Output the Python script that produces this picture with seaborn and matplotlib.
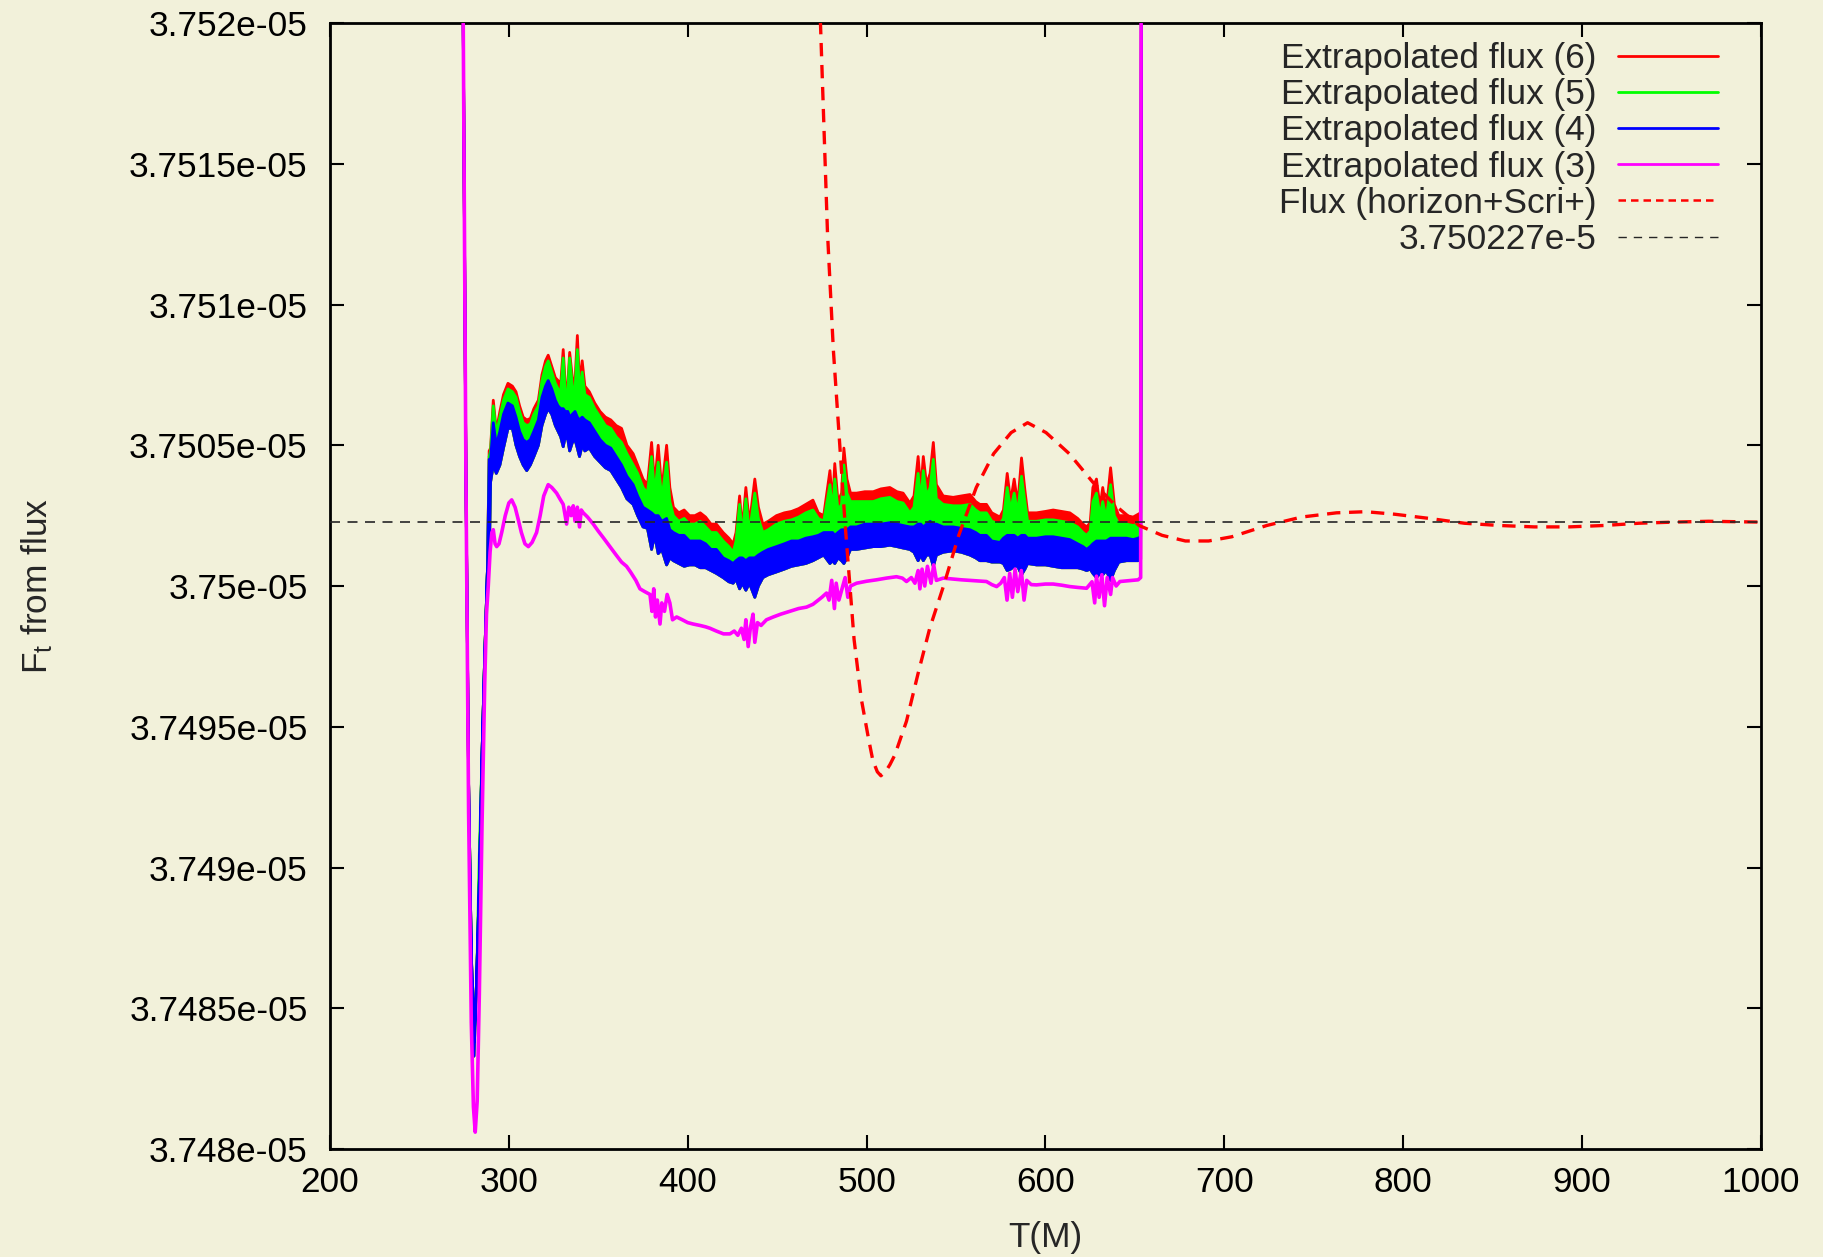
import numpy as np
import pandas as pd
import matplotlib
matplotlib.use("Agg")
import matplotlib.pyplot as plt
from matplotlib.lines import Line2D
from matplotlib.ticker import FormatStrFormatter
import seaborn as sns

# ---------------- data (values in units of 1e-9, offset from BASE) ----------------
BASE = 3.75e-05
UNIT = 1e-09

# shared time grid for the three extrapolated-flux bands (6), (5), (4)
t_band = [272, 274.5, 276, 277.5, 279, 280.5, 282, 283.5, 285, 286.5, 288, 289, 289.8,
          291.3, 293, 295, 297, 299.5, 302, 304, 306, 308, 310, 312, 314, 316.5, 318.5,
          320.5, 322, 324, 326, 327.5, 329, 330.4, 331.5, 333, 334, 335.5, 337, 338.3,
          339.5, 341, 342.5, 345, 348, 351, 354, 357, 360, 363, 366, 369.5, 372, 375,
          377.5, 379.8, 381.5, 383.5, 385.5, 388.2, 390, 392, 395, 398, 401, 404, 407,
          410, 413, 416, 419.8, 423, 425.4, 427, 429, 430.5, 432.5, 434.5, 437.5, 439.5,
          442, 445, 449.6, 454, 458, 462, 466, 470, 473, 476, 479.5, 481, 482.2, 484,
          486, 487.3, 489, 491, 494.4, 499, 503.7, 508, 513, 517, 520.4, 524.2, 526.5,
          528.8, 530.3, 531.7, 533.5, 535.5, 537.3, 539, 542.8, 548.4, 553, 557.8, 561,
          563.3, 567, 570, 574.5, 576.5, 578.6, 580.5, 582.5, 584.5, 586.6, 588.5, 590,
          595, 600, 604.3, 609, 613.6, 618, 621, 623, 625, 626.5, 628.5, 630.5, 632, 634,
          636.4, 638.5, 641, 645.3, 649, 651.8, 653.2, 654]

ext6_hi = [40, 20, 4, -7, -13, -16.2, -14, -10.5, -6, -2.5, 0.5, 4.8, 4.9,
           6.6, 5.5, 6.2, 6.8, 7.2, 7.1, 6.9, 6.4, 6.0, 5.9, 5.95, 6.3, 6.6, 7.5,
           8.0, 8.2, 7.8, 7.4, 7.3, 7.2, 8.4, 7.2, 7.2, 8.3, 7.4, 7.3, 8.9,
           7.2, 8.0, 7.1, 6.9, 6.5, 6.2, 6.0, 5.9, 5.7, 5.6, 5.0, 4.7, 4.3, 3.8,
           3.6, 5.1, 3.6, 5.0, 3.4, 5.0, 3.5, 2.8, 2.6, 2.7, 2.5, 2.5, 2.6,
           2.45, 2.2, 2.2, 1.9, 1.7, 1.5, 1.9, 3.2, 2.0, 3.5, 2.2, 3.8, 2.8,
           2.2, 2.3, 2.5, 2.6, 2.65, 2.75, 2.9, 3.05, 2.6, 2.5, 4.1, 2.9, 4.35, 3.0,
           3.3, 4.9, 3.8, 3.3, 3.3, 3.35, 3.35, 3.45, 3.5, 3.35, 3.3, 2.95, 3.2,
           4.6, 3.4, 4.6, 3.6, 4.0, 5.1, 3.6, 3.2, 3.15, 3.2, 3.25, 3.0,
           2.9, 2.9, 2.6, 2.45, 2.7, 4.0, 3.0, 3.8, 2.9, 4.55, 3.4, 2.6,
           2.6, 2.65, 2.7, 2.65, 2.6, 2.4, 2.2, 2.1, 2.25, 3.5, 3.8, 2.8, 3.5, 2.7,
           4.2, 2.9, 2.5, 2.5, 2.45, 2.55, 2.6, 40]

ext5_hi = [40, 20, 4, -7, -13, -16.2, -14, -9.5, -6, -2.5, 0.5, 4.6, 4.8,
           6.4, 5.4, 6.0, 6.6, 7.0, 6.9, 6.7, 6.2, 5.8, 5.7, 5.75, 6.1, 6.4, 7.3,
           7.8, 8.0, 7.6, 7.2, 7.0, 6.9, 8.1, 6.9, 7.0, 8.1, 7.1, 7.0, 8.4,
           6.9, 7.6, 6.8, 6.7, 6.3, 6.0, 5.7, 5.6, 5.3, 5.1, 4.7, 4.3, 4.0, 3.5,
           3.3, 4.6, 3.3, 4.4, 3.1, 4.4, 3.0, 2.5, 2.3, 2.4, 2.2, 2.2, 2.3,
           2.1, 1.9, 1.9, 1.6, 1.4, 1.2, 1.6, 2.9, 1.8, 3.1, 1.9, 3.3, 2.4,
           1.9, 2.0, 2.2, 2.3, 2.35, 2.45, 2.6, 2.7, 2.4, 2.3, 3.6, 2.6, 3.8, 2.7,
           2.9, 4.3, 3.3, 3.0, 3.0, 3.0, 3.0, 3.1, 3.15, 3.0, 2.95, 2.6, 2.8,
           4.0, 3.0, 4.1, 3.2, 3.5, 4.5, 3.1, 2.9, 2.85, 2.85, 2.9, 2.7,
           2.6, 2.6, 2.3, 2.2, 2.4, 3.5, 2.7, 3.3, 2.6, 3.9, 3.0, 2.3,
           2.3, 2.35, 2.35, 2.3, 2.25, 2.1, 1.9, 1.8, 1.95, 3.0, 3.3, 2.5, 3.0, 2.4,
           3.6, 2.5, 2.2, 2.2, 2.15, 2.2, 2.3, 40]

ext4_hi = [40, 20, 4, -7, -13, -16.2, -14, -10.5, -6, -2.5, 0.5, 4.5, 4.5,
           5.8, 5.0, 5.5, 6.1, 6.5, 6.4, 6.0, 5.5, 5.2, 5.1, 5.2, 5.5, 5.9, 6.7,
           7.1, 7.3, 7.0, 6.6, 6.4, 6.3, 6.3, 6.2, 6.2, 6.0, 6.1, 6.2, 6.0,
           5.9, 6.0, 5.9, 5.8, 5.5, 5.2, 5.0, 4.9, 4.6, 4.3, 3.9, 3.6, 3.2, 2.8,
           2.7, 2.6, 2.5, 2.5, 2.3, 2.4, 2.0, 1.9, 1.8, 1.8, 1.6, 1.6, 1.6,
           1.5, 1.3, 1.3, 1.0, 0.9, 0.8, 0.9, 1.0, 1.0, 0.9, 1.0, 1.0, 1.1,
           1.2, 1.3, 1.4, 1.5, 1.6, 1.6, 1.7, 1.75, 1.8, 1.9, 1.9, 1.9, 1.8, 1.9,
           2.0, 2.0, 2.0, 2.1, 2.1, 2.2, 2.2, 2.2, 2.25, 2.2, 2.15, 2.1, 2.1,
           2.2, 2.2, 2.1, 2.2, 2.3, 2.2, 2.2, 2.1, 2.1, 2.05, 2.0, 1.9,
           1.8, 1.8, 1.6, 1.55, 1.7, 1.8, 1.8, 1.8, 1.7, 1.8, 1.8, 1.7,
           1.7, 1.75, 1.75, 1.7, 1.65, 1.5, 1.4, 1.3, 1.4, 1.5, 1.6, 1.6, 1.6, 1.6,
           1.7, 1.7, 1.7, 1.7, 1.65, 1.7, 1.75, 40]

ext4_lo = [40, 20, 4, -7, -13, -16.7, -14, -10.5, -6, -2.5, 0.5, 0.8, 3.7,
           4.3, 4.0, 4.3, 4.9, 5.6, 5.6, 5.0, 4.6, 4.3, 4.1, 4.3, 4.6, 5.0, 5.7,
           6.1, 6.3, 6.1, 5.7, 5.5, 5.3, 4.95, 5.3, 5.2, 4.8, 5.1, 5.2, 4.9,
           4.6, 5.0, 4.8, 4.9, 4.6, 4.4, 4.2, 4.1, 3.8, 3.5, 3.1, 2.9, 2.5, 2.1,
           2.05, 1.3, 1.8, 1.15, 1.3, 0.75, 1.0, 0.9, 0.8, 0.7, 0.75, 0.75, 0.65,
           0.65, 0.55, 0.45, 0.3, 0.15, 0.1, 0.25, -0.1, 0.1, -0.15, 0.1, -0.4, 0.0,
           0.3, 0.4, 0.5, 0.6, 0.7, 0.75, 0.8, 0.9, 1.0, 1.1, 0.8, 0.9, 0.8, 1.0,
           0.9, 0.8, 1.0, 1.3, 1.3, 1.35, 1.4, 1.4, 1.45, 1.4, 1.35, 1.3, 1.2,
           0.9, 1.1, 0.9, 1.1, 1.1, 0.7, 1.1, 1.2, 1.25, 1.2, 1.1, 1.0,
           0.9, 0.9, 0.85, 0.85, 0.8, 0.55, 0.6, 0.7, 0.7, 0.4, 0.6, 0.8,
           0.75, 0.75, 0.7, 0.65, 0.65, 0.65, 0.6, 0.55, 0.6, 0.45, 0.3, 0.45, 0.4, 0.55,
           0.2, 0.55, 0.85, 0.9, 0.9, 0.9, 0.95, 40]

# extrapolated flux (3)
t_ext3 = [272, 274.5, 276, 277.5, 279, 280.2, 281.2, 282.3, 283.5, 285, 286.5, 287.5,
          288.5, 289.5, 290.5, 291.3, 292.3, 293.2, 294.5, 296, 298, 300, 301.6, 303.5,
          305.3, 307, 309, 310.9, 313, 315.5, 317.5, 319.5, 322, 324, 326.7, 328.5,
          330.4, 331.5, 332.3, 333.5, 334.8, 336, 337, 338.3, 339.5, 340.5, 341.6, 344,
          347.2, 350, 353, 356.5, 360, 363, 365.8, 368, 371, 373.3, 376, 378.9, 380, 381,
          382, 383, 384.5, 385.5, 387, 388.5, 390, 391.5, 393.8, 397, 400, 403, 406.8,
          410, 412.4, 416, 420, 423.6, 426, 428, 430, 431.5, 432.5, 433.8, 435, 436.5,
          437.5, 439, 441, 444, 447.8, 452, 457.1, 462, 466.4, 470, 472, 475, 477.6, 479,
          480.5, 482, 483, 484.5, 486.5, 488, 489.5, 491, 494.4, 500, 505.5, 511, 516.7,
          520, 522.3, 525, 527, 528.8, 529.8, 531, 532.5, 534, 536, 537.5, 539, 542.8,
          548, 553, 557.8, 563, 567, 570, 572.7, 575, 577, 578.5, 580, 581.5, 583, 584.5,
          586.5, 588, 589.5, 592, 595, 600, 604.3, 609, 613.6, 618, 623, 626, 627.5,
          628.5, 630, 631.5, 633, 634.5, 636.4, 637.5, 639.5, 641.6, 645, 648.5, 651.8,
          653.2, 653.7]
ext3 = [40, 20, 4, -8, -15.5, -18.5, -19.4, -18.3, -14.5, -8.5, -3.5, -1.0,
        0.0, 1.2, 1.9, 2.0, 1.5, 1.4, 1.5, 1.9, 2.5, 2.95, 3.06, 2.8,
        2.35, 1.9, 1.5, 1.4, 1.55, 1.9, 2.5, 3.2, 3.6, 3.5, 3.3, 3.1,
        2.9, 2.5, 2.2, 2.8, 2.5, 2.85, 2.3, 2.8, 2.1, 2.7, 2.6, 2.45,
        2.2, 1.95, 1.7, 1.4, 1.1, 0.85, 0.7, 0.5, 0.2, -0.1, -0.2, -0.3, -0.9, -0.1,
        -1.1, -0.5, -1.35, -0.6, -0.9, -0.3, -0.6, -1.2, -1.1, -1.2, -1.3, -1.35, -1.4,
        -1.45, -1.5, -1.6, -1.7, -1.7, -1.6, -1.75, -1.5, -1.9, -1.2, -2.15, -1.5, -1.0,
        -2.0, -1.3, -1.4, -1.2, -1.1, -1.0, -0.9, -0.8, -0.75, -0.65, -0.55, -0.4, -0.25, -0.5,
        0.2, -0.8, 0.1, -0.5, -0.05, 0.3, -0.4, 0.0, 0.1, 0.17, 0.22, 0.28, 0.33,
        0.28, 0.16, 0.3, 0.1, 0.55, -0.1, 0.6, 0.0, 0.7, 0.1, 0.75, 0.2, 0.28,
        0.25, 0.22, 0.2, 0.18, 0.16, 0.05, -0.02, 0.1, 0.3, -0.5, 0.45, -0.4, 0.6, -0.2,
        0.55, -0.5, 0.2, 0.05, 0.04, 0.07, 0.07, 0.03, -0.02, -0.05, -0.08, 0.15, -0.6,
        0.35, -0.4, 0.4, -0.7, 0.3, -0.3, 0.3, 0.0, 0.16, 0.18, 0.2, 0.22,
        0.3, 40]

# flux (horizon + Scri+)
t_flux = [462, 474.2, 478.1, 481.4, 487.9, 493, 497, 501, 503.5, 506, 508, 510.5, 513,
          515.8, 522.3, 528.8, 535.3, 543, 551.5, 561.3, 571, 580.8, 590, 600.3, 613.3,
          626.3, 639.3, 652.3, 665.2, 678.2, 691.2, 704.2, 723.7, 743.2, 762.7, 779,
          795.2, 814.7, 834.2, 853.7, 873.2, 892.7, 912.2, 931.7, 951.2, 970.7, 1000]
flux = [45, 20, 12.6, 8.4, 2.27, -1.9, -4.0, -5.4, -6.2, -6.6, -6.74, -6.6, -6.35,
        -6.0, -4.8, -3.1, -1.5, 0.0, 1.8, 3.5, 4.7, 5.45, 5.8, 5.45, 4.7,
        3.7, 2.85, 2.15, 1.8, 1.6, 1.6, 1.75, 2.15, 2.45, 2.6, 2.64,
        2.55, 2.4, 2.23, 2.15, 2.1, 2.1, 2.15, 2.23, 2.27, 2.3, 2.27]

ref_value = 3.750227e-05

labels = ["Extrapolated flux (6)", "Extrapolated flux (5)", "Extrapolated flux (4)",
          "Extrapolated flux (3)", "Flux (horizon+Scri+)", "3.750227e-5"]
colors = ["#ff0000", "#00ff00", "#0000ff", "#ff00ff", "#ff0000", "#262626"]

x_ticks = [200, 300, 400, 500, 600, 700, 800, 900, 1000]
y_ticks = [3.748e-05, 3.7485e-05, 3.749e-05, 3.7495e-05, 3.75e-05,
           3.7505e-05, 3.751e-05, 3.7515e-05, 3.752e-05]

# ---------------- style ----------------
sns.set_theme(style="ticks")
BG = "#f2f1da"
plt.rcParams["font.family"] = ["Liberation Sans", "DejaVu Sans"]
plt.rcParams["mathtext.fontset"] = "custom"
plt.rcParams["mathtext.rm"] = "Liberation Sans"
plt.rcParams["mathtext.it"] = "Liberation Sans"
plt.rcParams["mathtext.default"] = "regular"

FS = 25.4

fig = plt.figure(figsize=(18.23, 12.57), dpi=100, facecolor=BG)
ax = fig.add_axes([0.1810, 0.0859, 0.9660 - 0.1810, 0.9817 - 0.0859])
ax.set_facecolor(BG)


def to_abs(vals):
    return BASE + np.asarray(vals, dtype=float) * UNIT


band = pd.DataFrame({"T": t_band, "e6": to_abs(ext6_hi), "e5": to_abs(ext5_hi),
                     "e4": to_abs(ext4_hi), "lo": to_abs(ext4_lo)})
df3 = pd.DataFrame({"T": t_ext3, "F": to_abs(ext3)})
dff = pd.DataFrame({"T": t_flux, "F": to_abs(flux)})

for col, c in zip(["e6", "e5", "e4"], colors[:3]):
    ax.fill_between(band["T"], band["lo"], band[col], color=c, lw=2.0,
                    edgecolor=c, zorder=2)

sns.lineplot(data=df3, x="T", y="F", ax=ax, color=colors[3], lw=2.6,
             estimator=None, sort=False, zorder=3)
sns.lineplot(data=dff, x="T", y="F", ax=ax, color=colors[4], lw=2.4,
             estimator=None, sort=False, zorder=4)
ax.lines[-1].set_dashes((4, 2.6))
ax.axhline(ref_value, color=colors[5], lw=1.2, dashes=(6, 4.5), zorder=5)

ax.set_xlim(200, 1000)
ax.set_ylim(3.748e-05, 3.752e-05)
ax.set_xticks(x_ticks)
ax.set_yticks(y_ticks)
ax.yaxis.set_major_formatter(FormatStrFormatter("%g"))
ax.tick_params(direction="in", length=10, width=1.5, top=True, right=True,
               labelsize=FS, colors="black")
ax.tick_params(axis="x", pad=12)
ax.tick_params(axis="y", pad=16)
for s in ax.spines.values():
    s.set_visible(True)
    s.set_linewidth(2.0)
    s.set_color("black")

ax.set_xlabel("T(M)", fontsize=FS)
ax.set_ylabel("F$_t$ from flux", fontsize=FS)
ax.xaxis.set_label_coords(0.5, -0.064)
ax.xaxis.label.set_va("top")
ax.yaxis.set_label_coords(-0.192, 0.5)

handles = [Line2D([], [], color=colors[0], lw=2.0),
           Line2D([], [], color=colors[1], lw=2.0),
           Line2D([], [], color=colors[2], lw=2.0),
           Line2D([], [], color=colors[3], lw=2.0),
           Line2D([], [], color=colors[4], lw=1.8, dashes=(3, 2)),
           Line2D([], [], color=colors[5], lw=1.0, dashes=(6, 5))]
leg = ax.legend(handles, labels, loc="upper right", bbox_to_anchor=(0.970, 0.983),
                markerfirst=False, frameon=False, fontsize=FS, handlelength=2.85,
                handletextpad=0.6, labelspacing=0.09, borderpad=0, borderaxespad=0)

fig.savefig("out.png", dpi=100, facecolor=BG)
